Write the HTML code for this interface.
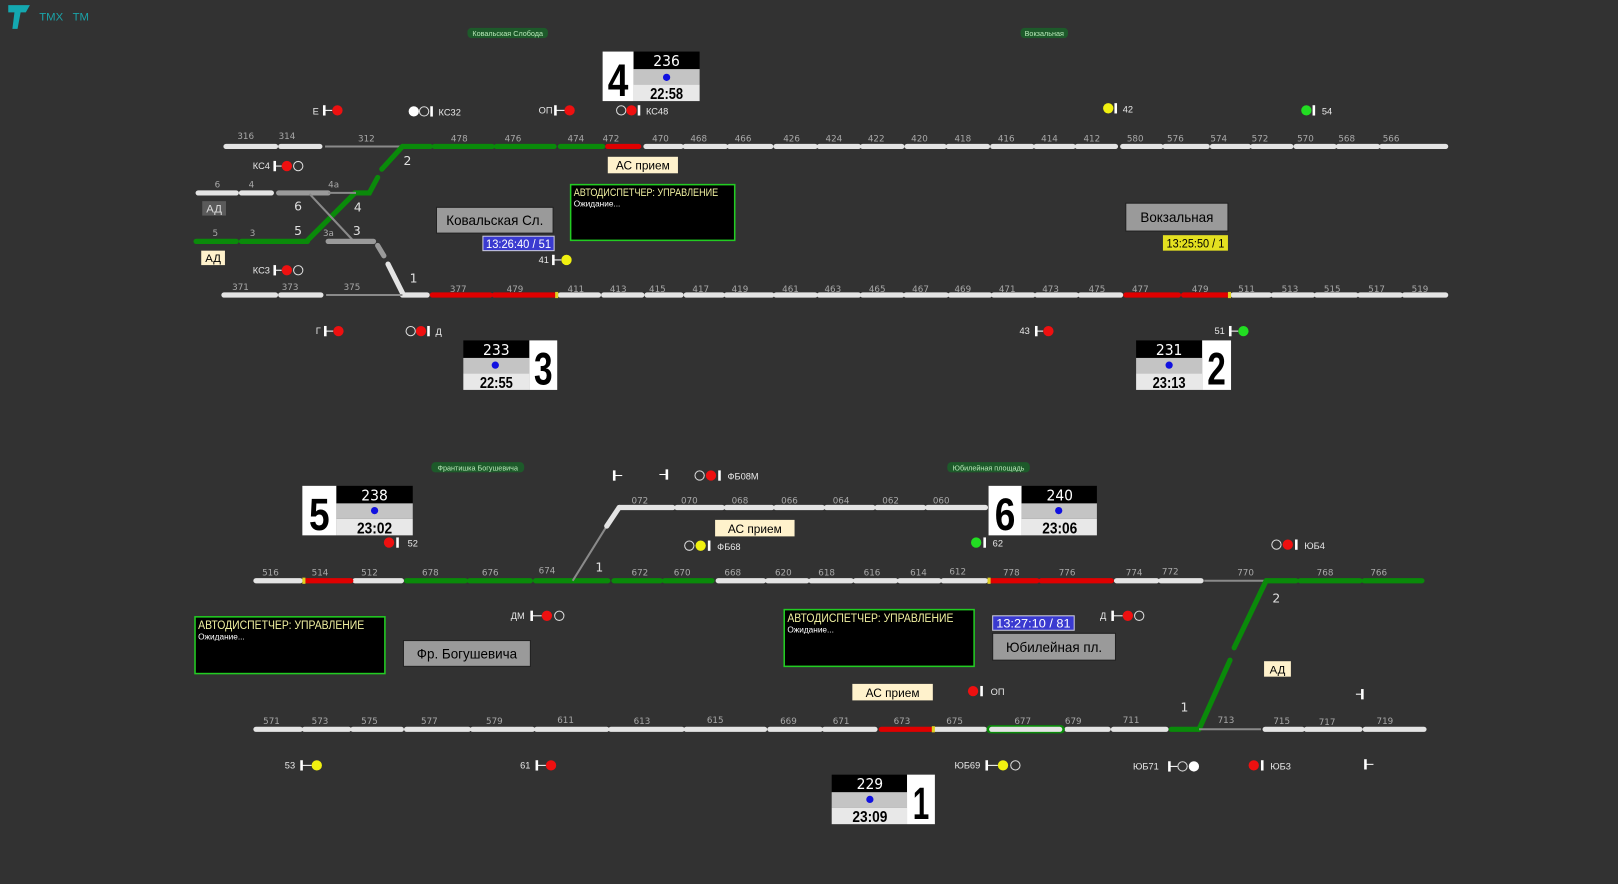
<!DOCTYPE html>
<html><head><meta charset="utf-8"><style>
html,body{margin:0;padding:0;background:#323232;overflow:hidden}
svg{display:block}
.w{stroke:#e4e4e4;stroke-width:5;stroke-linecap:round;fill:none}
.g{stroke:#0a8a0a;stroke-width:5;stroke-linecap:round;fill:none}
.r{stroke:#e00000;stroke-width:5;stroke-linecap:round;fill:none}
.gr{stroke:#9a9a9a;stroke-width:5;stroke-linecap:round;fill:none}
.t{stroke:#8a8a8a;stroke-width:2;fill:none}
.l{fill:#a8a8a8;font-family:"DejaVu Sans","Liberation Sans",sans-serif;font-size:8.5px}
.n{fill:#e0e0e0;font-family:"DejaVu Sans","Liberation Sans",sans-serif;font-size:12px}
.c{font-family:"Liberation Sans Narrow","Liberation Sans",sans-serif;font-stretch:condensed}
.big{font-weight:bold}
.sig{font-family:"Liberation Sans",sans-serif;font-size:9px;fill:#e8e8e8}
</style></head><body>
<svg width="1618" height="884" viewBox="0 0 1568 857" preserveAspectRatio="none" xmlns="http://www.w3.org/2000/svg">
<rect width="1568" height="857" fill="#323232"/>
<!-- logo -->
<path d="M8 5 H29 L25 12 H20 L17 28 H12 L14 12 H8 Z" fill="#14a8b0"/>
<text x="38" y="20" fill="#1aa3a8" font-family="Liberation Sans,sans-serif" font-size="11" xml:space="preserve">ТМХ   ТМ</text>
<!-- station tags -->
<g font-family="Liberation Sans,sans-serif" font-size="7" fill="#b8e8b8" text-anchor="middle">
<rect x="453" y="27" width="78" height="10" rx="4" fill="#1d5a2a"/><text x="492" y="35">Ковальская Слобода</text>
<rect x="989" y="27" width="46" height="10" rx="4" fill="#1d5a2a"/><text x="1012" y="35">Вокзальная</text>
<rect x="418" y="448" width="90" height="10" rx="4" fill="#1d5a2a"/><text x="463" y="456">Франтишка Богушевича</text>
<rect x="918" y="448" width="80" height="10" rx="4" fill="#1d5a2a"/><text x="958" y="456">Юбилейная площадь</text>
</g>

<!-- TOP TRACK y=142 -->
<g>
<path class="w" d="M219 142H267M272 142H310"/>
<path class="t" d="M315 142H390"/>
<path class="g" d="M390 142H417M421 142H477M481 142H537M543 142H584"/>
<path class="r" d="M589 142H619"/>
<path class="w" d="M626 142H660M664 142H703M707 142H747M752 142H790M794 142H832M836 142H874M879 142H915M919 142H957M962 142H1000M1004 142H1040M1044 142H1081M1088 142H1125M1129 142H1170M1175 142H1210M1214 142H1251M1256 142H1293M1297 142H1335M1339 142H1401"/>
<path class="g" d="M297 234 L344 187 H358 L366 172 M370 164 L390 142"/>
</g>
<g class="l">
<text x="230" y="135">316</text><text x="270" y="135">314</text><text x="347" y="137">312</text>
<text x="437" y="137">478</text><text x="489" y="137">476</text><text x="550" y="137">474</text><text x="584" y="137">472</text>
<text x="632" y="137">470</text><text x="669" y="137">468</text><text x="712" y="137">466</text><text x="759" y="137">426</text><text x="800" y="137">424</text><text x="841" y="137">422</text><text x="883" y="137">420</text><text x="925" y="137">418</text><text x="967" y="137">416</text><text x="1009" y="137">414</text><text x="1050" y="137">412</text><text x="1092" y="137">580</text><text x="1131" y="137">576</text><text x="1173" y="137">574</text><text x="1213" y="137">572</text><text x="1257" y="137">570</text><text x="1297" y="137">568</text><text x="1340" y="137">566</text>
</g>

<path class="w" d="M192 187H229M234 187H263"/>
<path class="gr" d="M270 187H318"/>
<path class="t" d="M318 187H345 M300 188 L343 234"/>
<g class="l"><text x="208" y="182">6</text><text x="241" y="182">4</text><text x="318" y="182">4а</text></g>
<path class="g" d="M190 234H229M234 234H292M292 234H298"/>
<path class="gr" d="M318 234H362 M366 238 L372 248"/>
<path class="w" d="M376 256 L390 284"/>
<g class="l"><text x="206" y="229">5</text><text x="242" y="229">3</text><text x="313" y="229">3а</text></g>

<path class="w" d="M217 286H267M272 286H311 M390 286H414"/>
<path class="t" d="M316 286H390"/>
<path class="r" d="M419 286H475M479 286H537 M1091 286H1142M1147 286H1189"/>
<path class="w" d="M543 286H580M585 286H622M627 286H660M665 286H700M704 286H748M752 286H790M794 286H832M836 286H874M878 286H917M921 286H959M963 286H1001M1005 286H1043M1047 286H1086 M1195 286H1230M1234 286H1272M1276 286H1314M1318 286H1357M1361 286H1401"/>
<rect x="538" y="283" width="3" height="6" fill="#e0d020"/><rect x="1190" y="283" width="3" height="6" fill="#e0d020"/>
<g class="l">
<text x="225" y="281">371</text><text x="273" y="281">373</text><text x="333" y="281">375</text><text x="436" y="283">377</text><text x="491" y="283">479</text>
<text x="550" y="283">411</text><text x="591" y="283">413</text><text x="629" y="283">415</text><text x="671" y="283">417</text><text x="709" y="283">419</text><text x="758" y="283">461</text><text x="799" y="283">463</text><text x="842" y="283">465</text><text x="884" y="283">467</text><text x="925" y="283">469</text><text x="968" y="283">471</text><text x="1010" y="283">473</text><text x="1055" y="283">475</text><text x="1097" y="283">477</text><text x="1155" y="283">479</text><text x="1200" y="283">511</text><text x="1242" y="283">513</text><text x="1283" y="283">515</text><text x="1326" y="283">517</text><text x="1368" y="283">519</text>
</g>
<g class="n"><text x="391" y="160">2</text><text x="285" y="204">6</text><text x="343" y="205">4</text><text x="285" y="228">5</text><text x="342" y="228">3</text><text x="397" y="274">1</text></g>

<g class="sig">
<text x="303" y="111">Е</text><rect x="313" y="102" width="2.5" height="10" fill="#fff"/><line x1="315" y1="107" x2="322" y2="107" stroke="#fff"/><circle cx="327" cy="107" r="5" fill="#ee1010"/>
<circle cx="401" cy="108" r="5" fill="#fff"/><circle cx="411" cy="108" r="4.5" fill="none" stroke="#ddd"/><rect x="417" y="103" width="2.5" height="10" fill="#fff"/><text x="425" y="112">КС32</text>
<text x="522" y="110">ОП</text><rect x="537" y="102" width="2.5" height="10" fill="#fff"/><line x1="539" y1="107" x2="547" y2="107" stroke="#fff"/><circle cx="552" cy="107" r="5" fill="#ee1010"/>
<circle cx="602" cy="107" r="4.5" fill="none" stroke="#ddd"/><circle cx="612" cy="107" r="5" fill="#ee1010"/><rect x="618" y="102" width="2.5" height="10" fill="#fff"/><text x="626" y="111">КС48</text>
<circle cx="1074" cy="105" r="5" fill="#f0f010"/><rect x="1080" y="100" width="2.5" height="10" fill="#fff"/><text x="1088" y="109">42</text>
<circle cx="1266" cy="107" r="5" fill="#22dd22"/><rect x="1272" y="102" width="2.5" height="10" fill="#fff"/><text x="1281" y="111">54</text>
<text x="245" y="164">КС4</text><rect x="265" y="156" width="2.5" height="10" fill="#fff"/><line x1="267" y1="161" x2="273" y2="161" stroke="#fff"/><circle cx="278" cy="161" r="5" fill="#ee1010"/><circle cx="289" cy="161" r="4.5" fill="none" stroke="#ddd"/>
<text x="245" y="265">КС3</text><rect x="265" y="257" width="2.5" height="10" fill="#fff"/><line x1="267" y1="262" x2="273" y2="262" stroke="#fff"/><circle cx="278" cy="262" r="5" fill="#ee1010"/><circle cx="289" cy="262" r="4.5" fill="none" stroke="#ddd"/>
<text x="522" y="255">41</text><rect x="535" y="247" width="2.5" height="10" fill="#fff"/><line x1="537" y1="252" x2="544" y2="252" stroke="#fff"/><circle cx="549" cy="252" r="5" fill="#f0f010"/>
<text x="306" y="324">Г</text><rect x="314" y="316" width="2.5" height="10" fill="#fff"/><line x1="316" y1="321" x2="323" y2="321" stroke="#fff"/><circle cx="328" cy="321" r="5" fill="#ee1010"/>
<circle cx="398" cy="321" r="4.5" fill="none" stroke="#ddd"/><circle cx="408" cy="321" r="5" fill="#ee1010"/><rect x="414" y="316" width="2.5" height="10" fill="#fff"/><text x="422" y="325">Д</text>
<text x="988" y="324">43</text><rect x="1003" y="316" width="2.5" height="10" fill="#fff"/><line x1="1005" y1="321" x2="1011" y2="321" stroke="#fff"/><circle cx="1016" cy="321" r="5" fill="#ee1010"/>
<text x="1177" y="324">51</text><rect x="1191" y="316" width="2.5" height="10" fill="#fff"/><line x1="1193" y1="321" x2="1200" y2="321" stroke="#fff"/><circle cx="1205" cy="321" r="5" fill="#22dd22"/>
</g>

<g font-family="Liberation Sans,sans-serif">
<rect x="196" y="195" width="23" height="14" fill="#5a5a5a"/><text x="207.5" y="206" text-anchor="middle" font-size="11" fill="#ddd">АД</text>
<rect x="195" y="243" width="23" height="14" fill="#fff2cc"/><text x="206.5" y="254" text-anchor="middle" font-size="11" fill="#000">АД</text>
<rect x="1225" y="641" width="26" height="15" fill="#fff2cc"/><text x="1238" y="653" text-anchor="middle" font-size="11" fill="#000">АД</text>
<rect x="589" y="152" width="68" height="16" fill="#fff2cc"/><text x="623" y="164.5" text-anchor="middle" font-size="11.5" fill="#000">АС прием</text>
<rect x="693" y="504" width="77" height="16" fill="#fff2cc"/><text x="731.5" y="516.5" text-anchor="middle" font-size="11.5" fill="#000">АС прием</text>
<rect x="826" y="663" width="78" height="16" fill="#fff2cc"/><text x="865" y="675.5" text-anchor="middle" font-size="11.5" fill="#000">АС прием</text>
<rect x="423" y="201" width="113" height="25" fill="#9a9a9a" stroke="#222"/><text x="479.5" y="218" text-anchor="middle" font-size="13" fill="#000">Ковальская Сл.</text>
<rect x="1091" y="197" width="99" height="27" fill="#9a9a9a" stroke="#222"/><text x="1140.5" y="215" text-anchor="middle" font-size="13" fill="#000">Вокзальная</text>
<rect x="391" y="621" width="123" height="25" fill="#9a9a9a" stroke="#222"/><text x="452.5" y="638.5" text-anchor="middle" font-size="13" fill="#000">Фр. Богушевича</text>
<rect x="962" y="614" width="119" height="26" fill="#9a9a9a" stroke="#222"/><text x="1021.5" y="632" text-anchor="middle" font-size="13" fill="#000">Юбилейная пл.</text>
</g>
<g class="c" font-size="12">
<rect x="468" y="229" width="69" height="14" fill="#3a3ad0" stroke="#ccd"/><text x="502.5" y="240.5" text-anchor="middle" fill="#fff" textLength="63" lengthAdjust="spacingAndGlyphs">13:26:40 / 51</text>
<rect x="1127" y="228" width="63" height="15" fill="#e4e020"/><text x="1158.5" y="240" text-anchor="middle" fill="#000" textLength="56" lengthAdjust="spacingAndGlyphs">13:25:50 / 1</text>
<rect x="962" y="597" width="79" height="14" fill="#3a3ad0" stroke="#ccd"/><text x="1001.5" y="608.5" text-anchor="middle" fill="#fff" textLength="72" lengthAdjust="spacingAndGlyphs">13:27:10 / 81</text>
</g>
<g>
<rect x="553" y="179" width="159" height="54" fill="#000" stroke="#22cc22" stroke-width="1.5"/>
<text x="556" y="190" class="c" font-size="11" fill="#f0f0a0" textLength="140" lengthAdjust="spacingAndGlyphs">АВТОДИСПЕТЧЕР: УПРАВЛЕНИЕ</text>
<text x="556" y="200" font-family="Liberation Sans,sans-serif" font-size="8" fill="#fff">Ожидание...</text>
<rect x="189" y="598" width="184" height="55" fill="#000" stroke="#22cc22" stroke-width="1.5"/>
<text x="192" y="610" class="c" font-size="12" fill="#f0f0a0" textLength="161" lengthAdjust="spacingAndGlyphs">АВТОДИСПЕТЧЕР: УПРАВЛЕНИЕ</text>
<text x="192" y="620" font-family="Liberation Sans,sans-serif" font-size="8" fill="#fff">Ожидание...</text>
<rect x="760" y="591" width="184" height="55" fill="#000" stroke="#22cc22" stroke-width="1.5"/>
<text x="763" y="603" class="c" font-size="12" fill="#f0f0a0" textLength="161" lengthAdjust="spacingAndGlyphs">АВТОДИСПЕТЧЕР: УПРАВЛЕНИЕ</text>
<text x="763" y="613" font-family="Liberation Sans,sans-serif" font-size="8" fill="#fff">Ожидание...</text>
</g>

<g class="c">
<rect x="584" y="50" width="30" height="48" fill="#fff"/><text class="big" x="599" y="93" text-anchor="middle" font-size="44" fill="#000" textLength="20" lengthAdjust="spacingAndGlyphs">4</text>
<rect x="614" y="50" width="64" height="17" fill="#000"/><rect x="614" y="67" width="64" height="15" fill="#c4c4c4"/><rect x="614" y="82" width="64" height="16" fill="#e8e8e8"/>
<text x="646" y="64" text-anchor="middle" font-family="DejaVu Sans,sans-serif" font-size="15" fill="#fff">236</text><circle cx="646" cy="75" r="3.5" fill="#1010e0"/>
<text x="646" y="96" text-anchor="middle" font-size="15" font-weight="bold" fill="#000" textLength="32" lengthAdjust="spacingAndGlyphs">22:58</text>
<rect x="449" y="330" width="64" height="17" fill="#000"/><rect x="449" y="347" width="64" height="15" fill="#c4c4c4"/><rect x="449" y="362" width="64" height="16" fill="#e8e8e8"/>
<text x="481" y="344" text-anchor="middle" font-family="DejaVu Sans,sans-serif" font-size="15" fill="#fff">233</text><circle cx="480" cy="354" r="3.5" fill="#1010e0"/>
<text x="481" y="376" text-anchor="middle" font-size="15" font-weight="bold" fill="#000" textLength="32" lengthAdjust="spacingAndGlyphs">22:55</text>
<rect x="513" y="330" width="27" height="48" fill="#fff"/><text class="big" x="526.5" y="373" text-anchor="middle" font-size="44" fill="#000" textLength="18" lengthAdjust="spacingAndGlyphs">3</text>
<rect x="1101" y="330" width="64" height="17" fill="#000"/><rect x="1101" y="347" width="64" height="15" fill="#c4c4c4"/><rect x="1101" y="362" width="64" height="16" fill="#e8e8e8"/>
<text x="1133" y="344" text-anchor="middle" font-family="DejaVu Sans,sans-serif" font-size="15" fill="#fff">231</text><circle cx="1133" cy="354" r="3.5" fill="#1010e0"/>
<text x="1133" y="376" text-anchor="middle" font-size="15" font-weight="bold" fill="#000" textLength="32" lengthAdjust="spacingAndGlyphs">23:13</text>
<rect x="1165" y="330" width="28" height="48" fill="#fff"/><text class="big" x="1179" y="373" text-anchor="middle" font-size="44" fill="#000" textLength="18" lengthAdjust="spacingAndGlyphs">2</text>
<rect x="293" y="471" width="33" height="48" fill="#fff"/><text class="big" x="309.5" y="514" text-anchor="middle" font-size="44" fill="#000" textLength="20" lengthAdjust="spacingAndGlyphs">5</text>
<rect x="326" y="471" width="74" height="17" fill="#000"/><rect x="326" y="488" width="74" height="15" fill="#c4c4c4"/><rect x="326" y="503" width="74" height="16" fill="#e8e8e8"/>
<text x="363" y="485" text-anchor="middle" font-family="DejaVu Sans,sans-serif" font-size="15" fill="#fff">238</text><circle cx="363" cy="495" r="3.5" fill="#1010e0"/>
<text x="363" y="517" text-anchor="middle" font-size="15" font-weight="bold" fill="#000" textLength="34" lengthAdjust="spacingAndGlyphs">23:02</text>
<rect x="958" y="471" width="32" height="48" fill="#fff"/><text class="big" x="974" y="514" text-anchor="middle" font-size="44" fill="#000" textLength="20" lengthAdjust="spacingAndGlyphs">6</text>
<rect x="990" y="471" width="73" height="17" fill="#000"/><rect x="990" y="488" width="73" height="15" fill="#c4c4c4"/><rect x="990" y="503" width="73" height="16" fill="#e8e8e8"/>
<text x="1027" y="485" text-anchor="middle" font-family="DejaVu Sans,sans-serif" font-size="15" fill="#fff">240</text><circle cx="1026" cy="495" r="3.5" fill="#1010e0"/>
<text x="1027" y="517" text-anchor="middle" font-size="15" font-weight="bold" fill="#000" textLength="34" lengthAdjust="spacingAndGlyphs">23:06</text>
<rect x="806" y="751" width="73" height="17" fill="#000"/><rect x="806" y="768" width="73" height="15" fill="#c4c4c4"/><rect x="806" y="783" width="73" height="16" fill="#e8e8e8"/>
<text x="843" y="765" text-anchor="middle" font-family="DejaVu Sans,sans-serif" font-size="15" fill="#fff">229</text><circle cx="843" cy="775" r="3.5" fill="#1010e0"/>
<text x="843" y="797" text-anchor="middle" font-size="15" font-weight="bold" fill="#000" textLength="34" lengthAdjust="spacingAndGlyphs">23:09</text>
<rect x="879" y="751" width="27" height="48" fill="#fff"/><text class="big" x="892.5" y="794" text-anchor="middle" font-size="44" fill="#000" textLength="16" lengthAdjust="spacingAndGlyphs">1</text>
</g>

<path class="w" d="M248 563H291M344 563H389 M696 563H740M744 563H782M786 563H825M829 563H868M872 563H910M914 563H955 M1082 563H1121M1125 563H1164 M600 492H652M656 492H700M704 492H748M752 492H797M801 492H846M850 492H895M899 492H955"/>
<path class="r" d="M297 563H340 M961 563H1005M1009 563H1077"/>
<rect x="293" y="560" width="3" height="6" fill="#e0d020"/><rect x="957" y="560" width="3" height="6" fill="#e0d020"/>
<path class="g" d="M394 563H451M455 563H514M519 563H589M595 563H640M644 563H690 M1227 563H1256M1260 563H1318M1322 563H1378"/>
<path class="t" d="M1167 563H1227 M555 563 L588 510"/>
<path class="w" d="M588 510 L600 492"/>
<path class="g" d="M1162 707 L1192 640 M1196 628 L1227 563"/>
<g class="l">
<text x="254" y="558">516</text><text x="302" y="558">514</text><text x="350" y="558">512</text><text x="409" y="558">678</text><text x="467" y="558">676</text><text x="522" y="556">674</text><text x="612" y="558">672</text><text x="653" y="558">670</text><text x="702" y="558">668</text><text x="751" y="558">620</text><text x="793" y="558">618</text><text x="837" y="558">616</text><text x="882" y="558">614</text><text x="920" y="557">612</text><text x="972" y="558">778</text><text x="1026" y="558">776</text><text x="1091" y="558">774</text><text x="1126" y="557">772</text><text x="1199" y="558">770</text><text x="1276" y="558">768</text><text x="1328" y="558">766</text>
<text x="612" y="488">072</text><text x="660" y="488">070</text><text x="709" y="488">068</text><text x="757" y="488">066</text><text x="807" y="488">064</text><text x="855" y="488">062</text><text x="904" y="488">060</text>
</g>
<path class="w" d="M248 707H291M295 707H338M342 707H389M394 707H454M458 707H516M520 707H588M592 707H661M665 707H741M746 707H795M799 707H848 M906 707H954M1034 707H1074M1079 707H1130 M1226 707H1262M1266 707H1318M1323 707H1380"/>
<path class="r" d="M854 707H902"/><rect x="903" y="704" width="3" height="6" fill="#e0d020"/>
<rect x="956" y="703" width="76" height="8" rx="4" fill="#0a8a0a"/><path class="w" d="M961 707H1027" stroke-width="4"/>
<path class="g" d="M1135 707H1162"/>
<path class="t" d="M1162 707H1222"/>
<g class="l">
<text x="255" y="702">571</text><text x="302" y="702">573</text><text x="350" y="702">575</text><text x="408" y="702">577</text><text x="471" y="702">579</text><text x="540" y="701">611</text><text x="614" y="702">613</text><text x="685" y="701">615</text><text x="756" y="702">669</text><text x="807" y="702">671</text><text x="866" y="702">673</text><text x="917" y="702">675</text><text x="983" y="702">677</text><text x="1032" y="702">679</text><text x="1088" y="701">711</text><text x="1180" y="701">713</text><text x="1234" y="702">715</text><text x="1278" y="703">717</text><text x="1334" y="702">719</text>
</g>
<g class="n"><text x="577" y="554">1</text><text x="1233" y="584">2</text><text x="1144" y="690">1</text></g>

<g class="sig">
<circle cx="377" cy="526" r="5" fill="#ee1010"/><rect x="384" y="521" width="2.5" height="10" fill="#fff"/><text x="395" y="530">52</text>
<rect x="594" y="456" width="2.5" height="10" fill="#fff"/><line x1="596" y1="461" x2="603" y2="461" stroke="#fff"/>
<rect x="645" y="455" width="2.5" height="10" fill="#fff"/><line x1="639" y1="460" x2="645" y2="460" stroke="#fff"/>
<circle cx="678" cy="461" r="4.5" fill="none" stroke="#ddd"/><circle cx="689" cy="461" r="5" fill="#ee1010"/><rect x="696" y="456" width="2.5" height="10" fill="#fff"/><text x="705" y="465">ФБ08М</text>
<circle cx="668" cy="529" r="4.5" fill="none" stroke="#ddd"/><circle cx="679" cy="529" r="5" fill="#f0f010"/><rect x="686" y="524" width="2.5" height="10" fill="#fff"/><text x="695" y="533">ФБ68</text>
<circle cx="946" cy="526" r="5" fill="#22dd22"/><rect x="953" y="521" width="2.5" height="10" fill="#fff"/><text x="962" y="530">62</text>
<circle cx="1237" cy="528" r="4.5" fill="none" stroke="#ddd"/><circle cx="1248" cy="528" r="5" fill="#ee1010"/><rect x="1255" y="523" width="2.5" height="10" fill="#fff"/><text x="1264" y="532">ЮБ4</text>
<text x="495" y="600">ДМ</text><rect x="514" y="592" width="2.5" height="10" fill="#fff"/><line x1="516" y1="597" x2="525" y2="597" stroke="#fff"/><circle cx="530" cy="597" r="5" fill="#ee1010"/><circle cx="542" cy="597" r="4.5" fill="none" stroke="#ddd"/>
<text x="1066" y="600">Д</text><rect x="1077" y="592" width="2.5" height="10" fill="#fff"/><line x1="1079" y1="597" x2="1088" y2="597" stroke="#fff"/><circle cx="1093" cy="597" r="5" fill="#ee1010"/><circle cx="1104" cy="597" r="4.5" fill="none" stroke="#ddd"/>
<circle cx="943" cy="670" r="5" fill="#ee1010"/><rect x="950" y="665" width="2.5" height="10" fill="#fff"/><text x="960" y="674">ОП</text>
<rect x="1319" y="668" width="2.5" height="10" fill="#fff"/><line x1="1314" y1="673" x2="1319" y2="673" stroke="#fff"/>
<text x="276" y="745">53</text><rect x="291" y="737" width="2.5" height="10" fill="#fff"/><line x1="293" y1="742" x2="302" y2="742" stroke="#fff"/><circle cx="307" cy="742" r="5" fill="#f0f010"/>
<text x="504" y="745">61</text><rect x="519" y="737" width="2.5" height="10" fill="#fff"/><line x1="521" y1="742" x2="529" y2="742" stroke="#fff"/><circle cx="534" cy="742" r="5" fill="#ee1010"/>
<text x="925" y="745">ЮБ69</text><rect x="955" y="737" width="2.5" height="10" fill="#fff"/><line x1="957" y1="742" x2="967" y2="742" stroke="#fff"/><circle cx="972" cy="742" r="5" fill="#f0f010"/><circle cx="984" cy="742" r="4.5" fill="none" stroke="#ddd"/>
<text x="1098" y="746">ЮБ71</text><rect x="1132" y="738" width="2.5" height="10" fill="#fff"/><line x1="1134" y1="743" x2="1141" y2="743" stroke="#fff"/><circle cx="1146" cy="743" r="4.5" fill="none" stroke="#ddd"/><circle cx="1157" cy="743" r="5" fill="#fff"/>
<circle cx="1215" cy="742" r="5" fill="#ee1010"/><rect x="1222" y="737" width="2.5" height="10" fill="#fff"/><text x="1231" y="746">ЮБ3</text>
<rect x="1322" y="736" width="2.5" height="10" fill="#fff"/><line x1="1324" y1="741" x2="1331" y2="741" stroke="#fff"/>
</g>
</svg>
</body></html>
